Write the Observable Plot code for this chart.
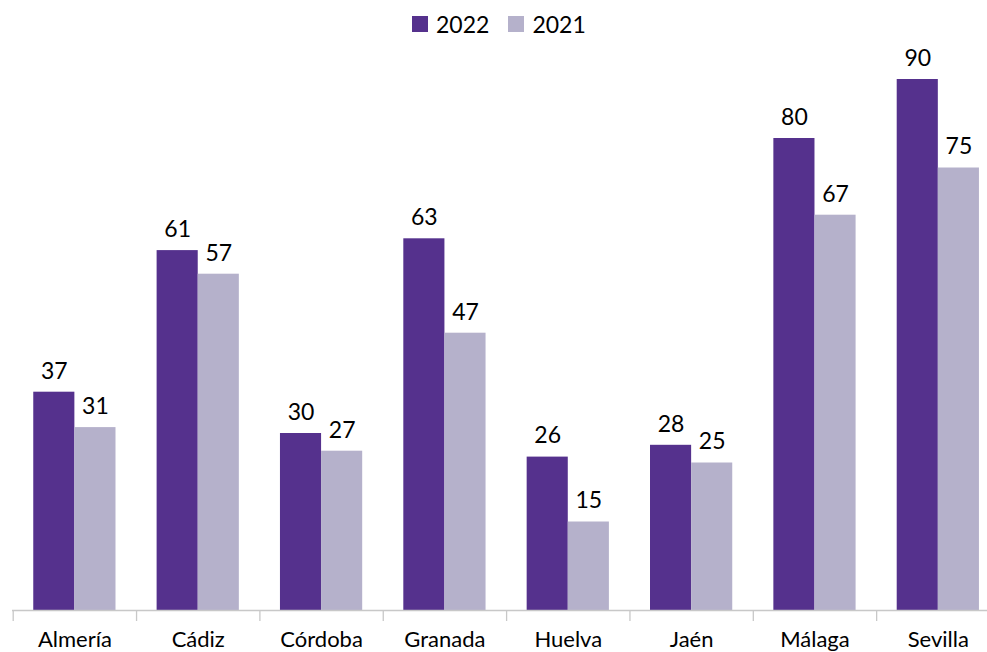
<!DOCTYPE html>
<html>
<head>
<meta charset="utf-8">
<script src="https://cdn.jsdelivr.net/npm/d3@7"></script>
<script src="https://cdn.jsdelivr.net/npm/@observablehq/plot@0.6"></script>
<style>
  body { margin: 0; background: #fff; font-family: Lato, "Noto Sans", sans-serif; }
  #wrap { position: relative; width: 987px; height: 652px; }
  #legend { position: absolute; top: 8px; left: 412px; display: flex; gap: 19px; font-size: 23px; color: #000; line-height: 32px; }
  .item { display: flex; align-items: center; gap: 8px; }
  .sw { width: 16px; height: 16px; display: inline-block; }
</style>
</head>
<body>
<div id="wrap">
  <div id="legend"></div>
</div>
<script>
const provinces = ["Almería", "Cádiz", "Córdoba", "Granada", "Huelva", "Jaén", "Málaga", "Sevilla"];
const values2022 = [37, 61, 30, 63, 26, 28, 80, 90];
const values2021 = [31, 57, 27, 47, 15, 25, 67, 75];
const years = ["2022", "2021"];
const colors = ["#55318d", "#b5b1cb"];

const data = provinces.flatMap((p, i) => [
  {province: p, year: "2022", value: values2022[i]},
  {province: p, year: "2021", value: values2021[i]}
]);

const x0 = 12.7, step = 123.35;
const xRange = [x0, x0 + step * provinces.length];
const font = "Lato, 'Noto Sans', sans-serif";

const chart = Plot.plot({
  width: 987,
  height: 652,
  marginLeft: 12,
  marginRight: 0,
  marginTop: 20,
  marginBottom: 42,
  style: {fontFamily: font, fontSize: "22px", color: "#000", background: "#fff"},
  x: {domain: provinces, range: xRange, padding: 0, round: false},
  y: {domain: [0, 100], range: [610, 20]},
  color: {domain: years, range: colors},
  marks: [
    Plot.barY(data.filter(d => d.year === "2022"), {x: "province", y: "value", fill: "year", insetLeft: step / 6, insetRight: step / 2}),
    Plot.barY(data.filter(d => d.year === "2021"), {x: "province", y: "value", fill: "year", insetLeft: step / 2, insetRight: step / 6}),
    Plot.text(data.filter(d => d.year === "2022"), {x: "province", y: "value", text: d => String(d.value), dx: -step / 6, dy: -21, lineAnchor: "middle", fontSize: 23, fill: "#000"}),
    Plot.text(data.filter(d => d.year === "2021"), {x: "province", y: "value", text: d => String(d.value), dx: step / 6, dy: -21, lineAnchor: "middle", fontSize: 23, fill: "#000"}),
    Plot.ruleY([0], {stroke: "#c8c8c8", strokeWidth: 1.3}),
    Plot.axisX({tickSize: 11, tickFormat: () => "", dx: -step / 2, stroke: "#c8c8c8", strokeWidth: 1.3, label: null}),
    Plot.axisX({tickSize: 0, tickPadding: 21, fontSize: 22, fill: "#000", label: null}),
    Plot.axisY({ticks: [], tickSize: 0, label: null})
  ]
});
document.getElementById("wrap").appendChild(chart);

const legend = document.getElementById("legend");
years.forEach((y, i) => {
  const item = document.createElement("div");
  item.className = "item";
  item.innerHTML = `<span class="sw" style="background:${colors[i]}"></span><span>${y}</span>`;
  legend.appendChild(item);
});
</script>
</body>
</html>
